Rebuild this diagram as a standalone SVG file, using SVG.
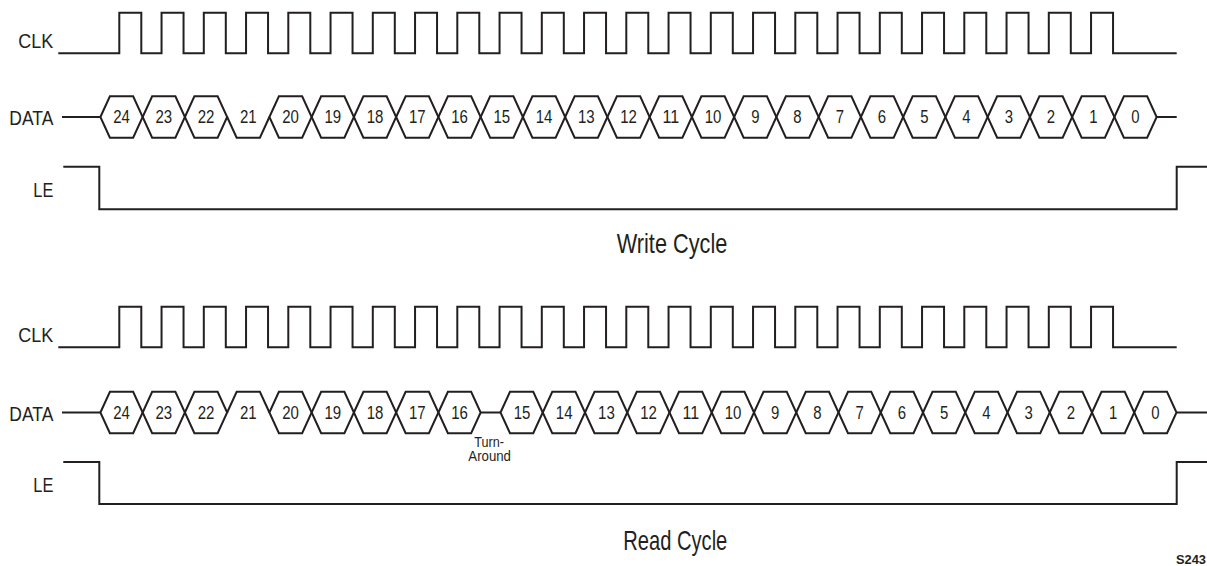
<svg xmlns="http://www.w3.org/2000/svg" xmlns:xlink="http://www.w3.org/1999/xlink" width="1207" height="566" viewBox="0 0 1207 566">
<style>
.w{fill:none;stroke:#231f20;stroke-width:2;stroke-linejoin:miter;stroke-linecap:butt}
.t{font-family:"Liberation Sans",Arial,sans-serif;fill:#231f20}
.sig{font-size:21px}
.num{font-size:17.5px;text-anchor:middle}
.cap{font-size:28px}
.ta{font-size:14px}
</style>
<defs>
<path id="hex" class="w" d="M0 0l9.5-20.75h23.25l9.5 20.75l-9.5 20.75h-23.25z"/>
<path id="clk" class="w" d="M58.3 53.3H119.3v-40.6h22v40.6h20.25v-40.6h22v40.6h20.25v-40.6h22v40.6h20.25v-40.6h22v40.6h20.25v-40.6h22v40.6h20.25v-40.6h22v40.6h20.25v-40.6h22v40.6h20.25v-40.6h22v40.6h20.25v-40.6h22v40.6h20.25v-40.6h22v40.6h20.25v-40.6h22v40.6h20.25v-40.6h22v40.6h20.25v-40.6h22v40.6h20.25v-40.6h22v40.6h20.25v-40.6h22v40.6h20.25v-40.6h22v40.6h20.25v-40.6h22v40.6h20.25v-40.6h22v40.6h20.25v-40.6h22v40.6h20.25v-40.6h22v40.6h20.25v-40.6h22v40.6h20.25v-40.6h22v40.6h20.25v-40.6h22v40.6h20.25v-40.6h22v40.6H1176.7"/>
</defs>

<g id="write-cycle">
  <g id="write-labels" class="t sig">
    <text x="18.3" y="48.3" textLength="35" lengthAdjust="spacingAndGlyphs">CLK</text>
    <text x="9.3" y="125" textLength="44" lengthAdjust="spacingAndGlyphs">DATA</text>
    <text x="33.3" y="196.7" textLength="20" lengthAdjust="spacingAndGlyphs">LE</text>
  </g>
  <g id="write-clk"><use xlink:href="#clk" href="#clk"/></g>
  <g id="write-data">
    <path class="w" d="M62 117H100.4M1156.65 117H1176.7"/>
    <use href="#hex" xlink:href="#hex" x="100.4" y="117"/>
    <use href="#hex" xlink:href="#hex" x="142.65" y="117"/>
    <use href="#hex" xlink:href="#hex" x="184.9" y="117"/>
    <path class="w" d="M227.15 117l9.5 20.75h23.25l9.5-20.75"/>
    <use href="#hex" xlink:href="#hex" x="269.4" y="117"/>
    <use href="#hex" xlink:href="#hex" x="311.65" y="117"/>
    <use href="#hex" xlink:href="#hex" x="353.9" y="117"/>
    <use href="#hex" xlink:href="#hex" x="396.15" y="117"/>
    <use href="#hex" xlink:href="#hex" x="438.4" y="117"/>
    <use href="#hex" xlink:href="#hex" x="480.65" y="117"/>
    <use href="#hex" xlink:href="#hex" x="522.9" y="117"/>
    <use href="#hex" xlink:href="#hex" x="565.15" y="117"/>
    <use href="#hex" xlink:href="#hex" x="607.4" y="117"/>
    <use href="#hex" xlink:href="#hex" x="649.65" y="117"/>
    <use href="#hex" xlink:href="#hex" x="691.9" y="117"/>
    <use href="#hex" xlink:href="#hex" x="734.15" y="117"/>
    <use href="#hex" xlink:href="#hex" x="776.4" y="117"/>
    <use href="#hex" xlink:href="#hex" x="818.65" y="117"/>
    <use href="#hex" xlink:href="#hex" x="860.9" y="117"/>
    <use href="#hex" xlink:href="#hex" x="903.15" y="117"/>
    <use href="#hex" xlink:href="#hex" x="945.4" y="117"/>
    <use href="#hex" xlink:href="#hex" x="987.65" y="117"/>
    <use href="#hex" xlink:href="#hex" x="1029.9" y="117"/>
    <use href="#hex" xlink:href="#hex" x="1072.15" y="117"/>
    <use href="#hex" xlink:href="#hex" x="1114.4" y="117"/>
    <g class="t num">
      <text x="121.5" y="123" textLength="16.7" lengthAdjust="spacingAndGlyphs">24</text>
      <text x="163.8" y="123" textLength="16.7" lengthAdjust="spacingAndGlyphs">23</text>
      <text x="206" y="123" textLength="16.7" lengthAdjust="spacingAndGlyphs">22</text>
      <text x="248.3" y="123" textLength="16.7" lengthAdjust="spacingAndGlyphs">21</text>
      <text x="290.5" y="123" textLength="16.7" lengthAdjust="spacingAndGlyphs">20</text>
      <text x="332.8" y="123" textLength="16.7" lengthAdjust="spacingAndGlyphs">19</text>
      <text x="375" y="123" textLength="16.7" lengthAdjust="spacingAndGlyphs">18</text>
      <text x="417.3" y="123" textLength="16.7" lengthAdjust="spacingAndGlyphs">17</text>
      <text x="459.5" y="123" textLength="16.7" lengthAdjust="spacingAndGlyphs">16</text>
      <text x="501.8" y="123" textLength="16.7" lengthAdjust="spacingAndGlyphs">15</text>
      <text x="544" y="123" textLength="16.7" lengthAdjust="spacingAndGlyphs">14</text>
      <text x="586.3" y="123" textLength="16.7" lengthAdjust="spacingAndGlyphs">13</text>
      <text x="628.5" y="123" textLength="16.7" lengthAdjust="spacingAndGlyphs">12</text>
      <text x="670.8" y="123" textLength="16.7" lengthAdjust="spacingAndGlyphs">11</text>
      <text x="713" y="123" textLength="16.7" lengthAdjust="spacingAndGlyphs">10</text>
      <text x="755.3" y="123" textLength="8.3" lengthAdjust="spacingAndGlyphs">9</text>
      <text x="797.5" y="123" textLength="8.3" lengthAdjust="spacingAndGlyphs">8</text>
      <text x="839.8" y="123" textLength="8.3" lengthAdjust="spacingAndGlyphs">7</text>
      <text x="882" y="123" textLength="8.3" lengthAdjust="spacingAndGlyphs">6</text>
      <text x="924.3" y="123" textLength="8.3" lengthAdjust="spacingAndGlyphs">5</text>
      <text x="966.5" y="123" textLength="8.3" lengthAdjust="spacingAndGlyphs">4</text>
      <text x="1008.8" y="123" textLength="8.3" lengthAdjust="spacingAndGlyphs">3</text>
      <text x="1051" y="123" textLength="8.3" lengthAdjust="spacingAndGlyphs">2</text>
      <text x="1093.3" y="123" textLength="8.3" lengthAdjust="spacingAndGlyphs">1</text>
      <text x="1135.5" y="123" textLength="8.3" lengthAdjust="spacingAndGlyphs">0</text>
    </g>
  </g>
  <g id="write-le"><path class="w" d="M63.3 166.7H99.3V209.3H1176.7V166.7H1207"/></g>
  <text id="write-title" class="t cap" x="616.7" y="252.7" textLength="110.6" lengthAdjust="spacingAndGlyphs">Write Cycle</text>
</g>

<g id="read-cycle">
  <g id="read-labels" class="t sig">
    <text x="18.3" y="342" textLength="35" lengthAdjust="spacingAndGlyphs">CLK</text>
    <text x="9.3" y="420.5" textLength="44" lengthAdjust="spacingAndGlyphs">DATA</text>
    <text x="33.3" y="492" textLength="20" lengthAdjust="spacingAndGlyphs">LE</text>
  </g>
  <g id="read-clk"><use xlink:href="#clk" href="#clk" y="294"/></g>
  <g id="read-data">
    <path class="w" d="M62 412.5H100.4M480.65 412.5H500.5M1176.5 412.5H1207"/>
    <use href="#hex" xlink:href="#hex" x="100.4" y="412.5"/>
    <use href="#hex" xlink:href="#hex" x="142.65" y="412.5"/>
    <use href="#hex" xlink:href="#hex" x="184.9" y="412.5"/>
    <path class="w" d="M227.15 412.5l9.5-20.75h23.25l9.5 20.75"/>
    <use href="#hex" xlink:href="#hex" x="269.4" y="412.5"/>
    <use href="#hex" xlink:href="#hex" x="311.65" y="412.5"/>
    <use href="#hex" xlink:href="#hex" x="353.9" y="412.5"/>
    <use href="#hex" xlink:href="#hex" x="396.15" y="412.5"/>
    <use href="#hex" xlink:href="#hex" x="438.4" y="412.5"/>
    <use href="#hex" xlink:href="#hex" x="500.5" y="412.5"/>
    <use href="#hex" xlink:href="#hex" x="542.75" y="412.5"/>
    <use href="#hex" xlink:href="#hex" x="585" y="412.5"/>
    <use href="#hex" xlink:href="#hex" x="627.25" y="412.5"/>
    <use href="#hex" xlink:href="#hex" x="669.5" y="412.5"/>
    <use href="#hex" xlink:href="#hex" x="711.75" y="412.5"/>
    <use href="#hex" xlink:href="#hex" x="754" y="412.5"/>
    <use href="#hex" xlink:href="#hex" x="796.25" y="412.5"/>
    <use href="#hex" xlink:href="#hex" x="838.5" y="412.5"/>
    <use href="#hex" xlink:href="#hex" x="880.75" y="412.5"/>
    <use href="#hex" xlink:href="#hex" x="923" y="412.5"/>
    <use href="#hex" xlink:href="#hex" x="965.25" y="412.5"/>
    <use href="#hex" xlink:href="#hex" x="1007.5" y="412.5"/>
    <use href="#hex" xlink:href="#hex" x="1049.75" y="412.5"/>
    <use href="#hex" xlink:href="#hex" x="1092" y="412.5"/>
    <use href="#hex" xlink:href="#hex" x="1134.25" y="412.5"/>
    <g class="t num">
      <text x="121.5" y="419" textLength="16.7" lengthAdjust="spacingAndGlyphs">24</text>
      <text x="163.8" y="419" textLength="16.7" lengthAdjust="spacingAndGlyphs">23</text>
      <text x="206" y="419" textLength="16.7" lengthAdjust="spacingAndGlyphs">22</text>
      <text x="248.3" y="419" textLength="16.7" lengthAdjust="spacingAndGlyphs">21</text>
      <text x="290.5" y="419" textLength="16.7" lengthAdjust="spacingAndGlyphs">20</text>
      <text x="332.8" y="419" textLength="16.7" lengthAdjust="spacingAndGlyphs">19</text>
      <text x="375" y="419" textLength="16.7" lengthAdjust="spacingAndGlyphs">18</text>
      <text x="417.3" y="419" textLength="16.7" lengthAdjust="spacingAndGlyphs">17</text>
      <text x="459.5" y="419" textLength="16.7" lengthAdjust="spacingAndGlyphs">16</text>
      <text x="522" y="419" textLength="16.7" lengthAdjust="spacingAndGlyphs">15</text>
      <text x="564.2" y="419" textLength="16.7" lengthAdjust="spacingAndGlyphs">14</text>
      <text x="606.4" y="419" textLength="16.7" lengthAdjust="spacingAndGlyphs">13</text>
      <text x="648.6" y="419" textLength="16.7" lengthAdjust="spacingAndGlyphs">12</text>
      <text x="690.8" y="419" textLength="16.7" lengthAdjust="spacingAndGlyphs">11</text>
      <text x="733" y="419" textLength="16.7" lengthAdjust="spacingAndGlyphs">10</text>
      <text x="775.2" y="419" textLength="8.3" lengthAdjust="spacingAndGlyphs">9</text>
      <text x="817.5" y="419" textLength="8.3" lengthAdjust="spacingAndGlyphs">8</text>
      <text x="859.7" y="419" textLength="8.3" lengthAdjust="spacingAndGlyphs">7</text>
      <text x="901.9" y="419" textLength="8.3" lengthAdjust="spacingAndGlyphs">6</text>
      <text x="944.2" y="419" textLength="8.3" lengthAdjust="spacingAndGlyphs">5</text>
      <text x="986.4" y="419" textLength="8.3" lengthAdjust="spacingAndGlyphs">4</text>
      <text x="1028.6" y="419" textLength="8.3" lengthAdjust="spacingAndGlyphs">3</text>
      <text x="1070.9" y="419" textLength="8.3" lengthAdjust="spacingAndGlyphs">2</text>
      <text x="1113.1" y="419" textLength="8.3" lengthAdjust="spacingAndGlyphs">1</text>
      <text x="1155.4" y="419" textLength="8.3" lengthAdjust="spacingAndGlyphs">0</text>
    </g>
    <g id="turnaround-label" class="t ta">
      <text x="474.3" y="446.7" textLength="29.7" lengthAdjust="spacingAndGlyphs">Turn-</text>
      <text x="468.3" y="461" textLength="42.7" lengthAdjust="spacingAndGlyphs">Around</text>
    </g>
  </g>
  <g id="read-le"><path class="w" d="M63.3 462H99.3V504H1176.7V462H1207"/></g>
  <text id="read-title" class="t cap" x="623.3" y="550" textLength="104" lengthAdjust="spacingAndGlyphs">Read Cycle</text>
</g>

<text id="figure-id" class="t" x="1176" y="564.3" font-size="12.5" font-weight="bold" textLength="30" lengthAdjust="spacingAndGlyphs">S243</text>
</svg>
